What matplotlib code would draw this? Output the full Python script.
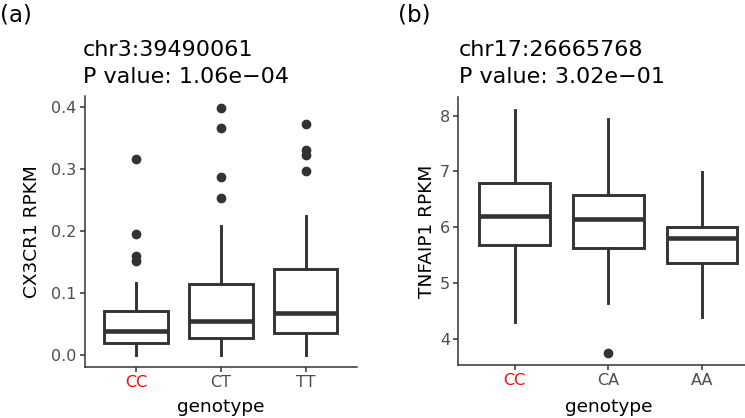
import matplotlib
matplotlib.use("Agg")
import matplotlib.pyplot as plt
from matplotlib.ticker import FixedLocator, FormatStrFormatter

plt.rcParams['font.family'] = ['DejaVu Sans']

# ---------------- data ----------------
cats_a = ['CC', 'CT', 'TT']
q1_a = [0.019, 0.027, 0.035]
med_a = [0.039, 0.055, 0.068]
q3_a = [0.070, 0.115, 0.138]
lo_a = [0.0, 0.0, 0.0]
hi_a = [0.116, 0.208, 0.224]
fliers_a = [[0.316, 0.195, 0.159, 0.151],
            [0.398, 0.366, 0.287, 0.253],
            [0.372, 0.331, 0.323, 0.297]]
yticks_a = [0.0, 0.1, 0.2, 0.3, 0.4]
title_a = ['chr3:39490061', 'P value: 1.06e\u221204']
ylabel_a = 'CX3CR1 RPKM'

cats_b = ['CC', 'CA', 'AA']
q1_b = [5.69, 5.62, 5.36]
med_b = [6.21, 6.15, 5.81]
q3_b = [6.80, 6.57, 6.00]
lo_b = [4.31, 4.64, 4.39]
hi_b = [8.11, 7.94, 6.99]
fliers_b = [[], [3.75], []]
yticks_b = [4, 5, 6, 7, 8]
title_b = ['chr17:26665768', 'P value: 3.02e\u221201']
ylabel_b = 'TNFAIP1 RPKM'

xlabel = 'genotype'
red_cat = 'CC'

W, H = 745, 418
fig = plt.figure(figsize=(W / 100, H / 100), dpi=100)

def fx(px):
    return px / W

def fy(py):
    return 1 - py / H

dark = '#333333'
gray = '#4D4D4D'

def panel(rect, cats, q1, med, q3, lo, hi, fl, yticks, ylim, fmt, ylabel, title,
          tag, tagx, titlex, ylab_x):
    ax = fig.add_axes(rect)
    stats = []
    for i in range(len(cats)):
        stats.append(dict(q1=q1[i], med=med[i], q3=q3[i], whislo=lo[i],
                          whishi=hi[i], fliers=fl[i], label=cats[i]))
    ax.bxp(stats, positions=range(1, len(cats) + 1), widths=0.75,
           patch_artist=True, showcaps=False,
           boxprops=dict(facecolor='white', edgecolor=dark, linewidth=2.1),
           medianprops=dict(color=dark, linewidth=3.3, solid_capstyle='butt'),
           whiskerprops=dict(color=dark, linewidth=2.1),
           flierprops=dict(marker='o', markerfacecolor=dark, markeredgecolor=dark,
                           markersize=6.0))
    ax.set_xlim(0.4, len(cats) + 0.6)
    ax.set_ylim(*ylim)
    ax.yaxis.set_major_locator(FixedLocator(yticks))
    ax.yaxis.set_major_formatter(FormatStrFormatter(fmt))
    for s in ['top', 'right']:
        ax.spines[s].set_visible(False)
    for s in ['left', 'bottom']:
        ax.spines[s].set_color(dark)
        ax.spines[s].set_linewidth(1.1)
    ax.tick_params(axis='both', colors=dark, width=1.1, length=3.5, pad=2.5,
                   labelsize=11.5, labelcolor=gray)
    for lab in ax.get_xticklabels():
        if lab.get_text() == red_cat:
            lab.set_color('#FF0000')
    ax.set_xlabel(xlabel, fontsize=13.3, color='black')
    ax.xaxis.set_label_coords(0.5, -(406.5 - (1 - rect[1]) * H) / (rect[3] * H))
    ax.xaxis.label.set_va('center')
    ax.set_ylabel(ylabel, fontsize=13.3, color='black')
    ax.yaxis.set_label_coords((ylab_x - rect[0] * W) / (rect[2] * W), 0.5)
    ax.yaxis.label.set_va('center')
    fig.text(fx(titlex), fy(56.5), title[0], fontsize=16, va='baseline', ha='left')
    fig.text(fx(titlex), fy(83), title[1], fontsize=16, va='baseline', ha='left')
    fig.text(fx(tagx), fy(15), tag, fontsize=16.5, va='center', ha='left')
    return ax

# left panel: x 85..356.5, y 96..367 (px)
rect_a = [fx(85), fy(367), (356.5 - 85) / W, (367 - 96) / H]
panel(rect_a, cats_a, q1_a, med_a, q3_a, lo_a, hi_a, fliers_a, yticks_a,
      (-0.0199, 0.418), '%.1f', ylabel_a, title_a, '(a)', 0, 83, 32)

# right panel: x 458..758 (cropped at figure edge), y 97..365
rect_b = [fx(458.3), fy(365), (758.4 - 458.3) / W, (365 - 97.4) / H]
panel(rect_b, cats_b, q1_b, med_b, q3_b, lo_b, hi_b, fliers_b, yticks_b,
      (3.532, 8.328), '%d', ylabel_b, title_b, '(b)', 398, 459, 426.5)

fig.savefig('out.png', dpi=100)
